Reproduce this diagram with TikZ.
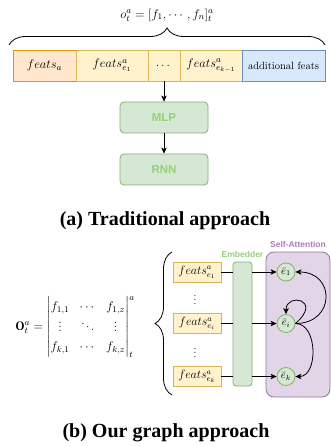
\RequirePackage{fix-cm}
\documentclass[tikz,border=0pt]{standalone}
\usepackage{amsmath,amssymb}
\usepackage{fontspec}
\newfontfamily\capfont{Liberation Serif}
\newfontfamily\labfont{Liberation Sans}
\usepackage{tikz}
\usetikzlibrary{arrows.meta,positioning,decorations.pathreplacing}
\definecolor{orfill}{HTML}{FFE6CC}
\definecolor{orline}{HTML}{D79B00}
\definecolor{yefill}{HTML}{FFF2CC}
\definecolor{yeline}{HTML}{D6B656}
\definecolor{blfill}{HTML}{DAE8FC}
\definecolor{blline}{HTML}{6C8EBF}
\definecolor{grfill}{HTML}{D5E8D4}
\definecolor{grline}{HTML}{82B366}
\definecolor{grtext}{HTML}{97D077}
\definecolor{pufill}{HTML}{E1D5E7}
\definecolor{puline}{HTML}{9673A6}
\definecolor{putext}{HTML}{A680B8}
\tikzset{
  cell/.style ={draw, line width=0.8pt, minimum height=31pt, inner sep=0pt, outer sep=0pt,
                font=\fontsize{12.5}{15}\selectfont},
  fbox/.style ={draw=yeline, fill=yefill, line width=0.8pt, minimum width=48pt, minimum height=20pt,
                inner sep=0pt, font=\fontsize{12}{14}\selectfont},
  layer/.style={draw=grline, fill=grfill, line width=0.8pt, rounded corners=4pt, minimum width=88pt,
                minimum height=31pt, text=grtext, font=\labfont\bfseries\fontsize{11.5}{13}\selectfont},
  ent/.style  ={circle, draw=grline, fill=grfill, line width=0.8pt, minimum size=18pt, inner sep=0pt,
                font=\fontsize{10.5}{12}\selectfont},
  tag/.style  ={font=\labfont\bfseries\fontsize{8.5}{10}\selectfont, inner sep=1pt},
  capt/.style ={font=\capfont\bfseries\fontsize{20}{23}\selectfont},
  arr/.style  ={line width=0.8pt, -{Stealth[length=6pt,width=5.5pt,inset=1.5pt]}},
  curly/.style={line width=0.8pt, decorate, decoration={brace,amplitude=17pt}},
}
\begin{document}
\begin{tikzpicture}[x=1pt,y=-1pt]
  \useasboundingbox (0,0) rectangle (331,446);

  % (a) flat feature vector
  \node (obs) at (167,15) {\fontsize{12.5}{15}\selectfont$o_t^a = [f_1, \cdots, f_n]_t^a$};
  \node[cell, draw=orline, fill=orfill, minimum width=63pt, anchor=north west] (fa) at (13,50) {$feats_a$};
  \node[cell, draw=yeline, fill=yefill, minimum width=72pt, right=0pt of fa] (fe1) {$feats_{e_1}^a$};
  \node[cell, draw=yeline, fill=yefill, minimum width=32pt, right=0pt of fe1] (fdots) {$\dots$};
  \node[cell, draw=yeline, fill=yefill, minimum width=62pt, right=0pt of fdots] (fek) {$feats_{e_{k-1}}^a$};
  \node[cell, draw=blline, fill=blfill, minimum width=83pt, right=0pt of fek,
        font=\fontsize{10.5}{12}\selectfont] (add) {additional feats};
  \draw[curly] ([xshift=-4pt,yshift=5pt]fa.north west) -- ([yshift=5pt]add.north east);

  \node[layer] (mlp) at (164,117.5) {MLP};
  \node[layer] (rnn) at (164,169.5) {RNN};
  \draw[arr] (fdots.south) -- (mlp.north);
  \draw[arr] (mlp.south) -- (rnn.north);
  \node[capt] (capa) at (165,221) {(a) Traditional approach};

  % (b) per-entity features
  \node (mat) at (75,327) {\fontsize{12.5}{15}\selectfont$\mathbf{O}_t^a =
    \renewcommand{\arraystretch}{1.25}\begin{vmatrix}
      f_{1,1} & \cdots & f_{1,z}\\
      \vdots  & \ddots & \vdots \\
      f_{k,1} & \cdots & f_{k,z}
    \end{vmatrix}_t^a$};
  \draw[curly] (172,395) -- (172,252);

  \node[fbox] (fb1) at (197,272) {$feats_{e_1}^a$};
  \node[fbox] (fbi) at (197,323.5) {$feats_{e_i}^a$};
  \node[fbox] (fbk) at (197,376.5) {$feats_{e_k}^a$};
  \node (vd1) at (195,297) {$\vdots$};
  \node (vd2) at (195,350) {$\vdots$};

  \node[draw=grline, fill=grfill, line width=0.8pt, rounded corners=3pt, minimum width=19pt,
        minimum height=124pt] (emb) at (242.5,324) {};
  \node[tag, text=grtext, above=3pt of emb] (embl) {Embedder};
  \node[draw=puline, fill=pufill, line width=0.8pt, rounded corners=8pt, minimum width=64pt,
        minimum height=145pt] (sa) at (298,324.5) {};
  \node[tag, text=putext, above=3pt of sa] (sal) {Self-Attention};

  \node[ent] (e1) at (286,272) {$\bar{e}_1$};
  \node[ent] (ei) at (286,323.5) {$\bar{e}_i$};
  \node[ent] (ek) at (286,376.5) {$\bar{e}_k$};

  \foreach \f/\e in {fb1/e1, fbi/ei, fbk/ek} {
    \draw[line width=0.8pt] (\f.east) -- (\f -| emb.west);
    \draw[arr] (\f -| emb.east) -- (\e.west);
  }
  \draw[arr] (ei.east) to[out=0, in=0, looseness=2] (e1.east);
  \draw[arr] (ei.east) .. controls +(28,-24) and +(0,-22) .. (ei.north);
  \draw[arr] (ei.east) to[out=0, in=0, looseness=1.1] (ek.east);
  \node[capt] (capb) at (166,433) {(b) Our graph approach};
\end{tikzpicture}
\end{document}
